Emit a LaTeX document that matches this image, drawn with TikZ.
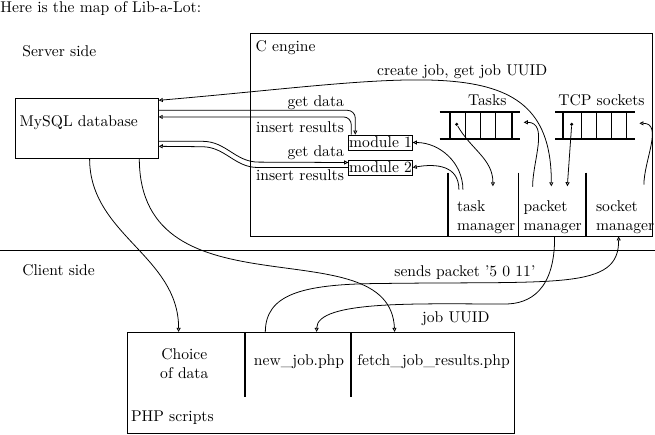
\documentclass[tikz,border=0pt]{standalone}
\usetikzlibrary{arrows.meta,calc,fit}
\begin{document}
\begin{tikzpicture}[x=0.641pt,y=0.641pt,
  line width=0.5pt,
  txt/.style={inner sep=0pt, anchor=base west},
  boxed/.style={draw, inner sep=0pt},
  zone/.style={inner sep=0pt},
  conarrow/.style={-{Triangle[open,length=2.6pt,width=2.6pt]}},
  biarrow/.style={{Triangle[open,length=2.6pt,width=2.6pt]}-{Triangle[open,length=2.6pt,width=2.6pt]}},
  divider/.style={line width=1.3pt},
  thindivider/.style={line width=0.5pt},
  queueline/.style={line width=1.3pt},
  slotline/.style={line width=0.5pt},
  modbox/.style={draw, inner sep=0pt, minimum width=40.8pt, minimum height=9.6pt},
  qdot/.style={circle, fill, inner sep=0pt, minimum size=2.2pt},
  mgr/.style={inner sep=0pt, align=left, anchor=west},
]
\useasboundingbox (0,0) rectangle (655,-434);

% titles
\node[txt] (title) at (0,-12) {Here is the map of Lib-a-Lot:};
\node[txt] (server) at (22,-56) {Server side};
\node[txt] (client) at (22,-275) {Client side};

% MySQL
\node[boxed, fit={(15.3,-98.3) (158.3,-158.3)}] (mysql) {};
\node[txt] (mysqltxt) at (19.3,-126.7) {MySQL database};

% C engine
\node[boxed, fit={(250.7,-33) (652,-236)}] (cengine) {};
\node[txt] (cenginetxt) at (255.3,-51.7) {C engine};

% separator
\draw (0,-250.7) -- (655,-250.7);

% Tasks queue
\node[zone, fit={(440,-112.7) (520,-138.3)}] (tasks) {};
\draw[queueline] (tasks.north west) -- (tasks.north east) (tasks.south west) -- (tasks.south east);
\draw[queueline] (450,-112.7) -- (450,-138.3) (511.7,-112.7) -- (511.7,-138.3);
\draw[slotline] (465,-112.7) -- (465,-138.3) (480,-112.7) -- (480,-138.3) (495,-112.7) -- (495,-138.3);
\node[inner sep=0pt, anchor=base] (taskslbl) at (487.3,-105.7) {Tasks};
\node[qdot] (taskdot) at (456.7,-124.3) {};

% TCP sockets queue
\node[zone, fit={(555.7,-112.7) (634.3,-138.3)}] (tcp) {};
\draw[queueline] (tcp.north west) -- (tcp.north east) (tcp.south west) -- (tcp.south east);
\draw[queueline] (563.3,-112.7) -- (563.3,-138.3);
\draw[slotline] (581.7,-112.7) -- (581.7,-138.3) (596.7,-112.7) -- (596.7,-138.3) (611.7,-112.7) -- (611.7,-138.3) (626.7,-112.7) -- (626.7,-138.3);
\node[txt] (tcplbl) at (558,-105.7) {TCP sockets};
\node[qdot] (tcpdot) at (571.7,-124.3) {};

% modules
\node[modbox] (mod1) at (380.5,-142.5) {module 1};
\node[modbox] (mod2) at (380.5,-167.5) {module 2};

\node[inner sep=0pt, anchor=base east] (gd1) at (344.3,-106.3) {get data};
\node[inner sep=0pt, anchor=base east] (ir1) at (344.3,-132.5) {insert results};
\node[inner sep=0pt, anchor=base east] (gd2) at (344.3,-156.7) {get data};
\node[inner sep=0pt, anchor=base east] (ir2) at (344.3,-180) {insert results};

% managers
\node[zone, fit={(448,-173) (518.5,-236)}] (taskcol) {};
\node[zone, fit={(518.5,-173) (586,-236)}] (packcol) {};
\node[zone, fit={(586,-173) (652,-236)}] (sockcol) {};
\draw[divider] (taskcol.north west) -- (taskcol.south west);
\draw[thindivider] (packcol.north west) -- (packcol.south west);
\draw[divider] (sockcol.north west) -- (sockcol.south west);
\node[mgr] (tasktxt) at (456.7,-217.3) {task\\manager};
\node[mgr] (packtxt) at (523.3,-217.3) {packet\\manager};
\node[mgr] (socktxt) at (595.7,-217.3) {socket\\manager};

% PHP scripts
\node[boxed, fit={(127,-332.3) (514,-433.3)}] (php) {};
\node[txt] (phptxt) at (130.7,-421.7) {PHP scripts};
\draw[divider] (245,-332.3) -- (245,-397);
\draw[divider] (351,-332.3) -- (351,-397);
\node[inner sep=0pt, align=center] (choice) at (184.3,-363.8) {Choice\\of data};
\node[inner sep=0pt, anchor=base] (newjob) at (299,-365) {new\_job.php};
\node[txt] (fetch) at (357,-365) {fetch\_job\_results.php};

% connector labels
\node[txt] (createlbl) at (376.7,-75) {create job, get job UUID};
\node[txt] (sendslbl) at (394,-276.7) {sends packet '5 0 11'};
\node[txt] (uuidlbl) at (421.7,-322.7) {job UUID};

% connectors
\draw[biarrow] ($(mysql.north east)+(0,-2.4)$) .. controls (420,-78) and (551.7,-45) .. ($(packcol.north west)+(33.2,-13.7)$);

\draw[conarrow, rounded corners=5pt] ($(mysql.north east)+(0,-12.4)$) -| ($(mod1.north west)+(7,0)$);
\draw[conarrow, rounded corners=5pt] ($(mod1.north west)+(3,0)$) |- ($(mysql.north east)+(0,-19)$);

\draw[conarrow] ($(mysql.north east)+(0,-43.4)$) -- ++(44,0) to[out=0,in=180] ++(56,-20.8) -- ($(mod2.west)+(0,5)$);
\draw[conarrow] (mod2.west) -- ++(-90.4,0) to[out=180,in=0] ++(-56,20.8) -- ($(mysql.north east)+(0,-48.4)$);

\draw[conarrow] ($(taskcol.north west)+(15.3,-17)$) to[out=90,in=0] (mod1.east);
\draw[conarrow] ($(taskcol.north west)+(11.3,-17)$) to[out=90,in=10,looseness=1.2] (mod2.east);

\draw[conarrow] (taskdot) to[out=-60,in=90] ($(taskcol.north west)+(45.3,-13.7)$);
\draw[conarrow] (tcpdot) -- ($(packcol.north west)+(49.2,-13.7)$);

\draw[conarrow] ($(packcol.north west)+(14.5,-14)$) to[out=90,in=0] ($(tasks.east)+(3.3,3.2)$);
\draw[conarrow] ($(sockcol.north west)+(58.3,-12)$) to[out=90,in=0] ($(tcp.east)+(4.7,2.2)$);

\draw[conarrow] ($(mysql.south west)+(74.7,0)$) to[out=-90,in=90] ($(php.north west)+(52,0)$);
\draw[conarrow] ($(mysql.south west)+(124.4,0)$) .. controls (139.7,-320) and (390,-225) .. ($(php.north west)+(268,0)$);

\coordinate (uuidbend) at (505,-304);
\draw[conarrow] ($(packcol.south west)+(36.5,0)$) .. controls (555,-290) and (530,-304) .. (uuidbend) .. controls (420,-304) and (317,-300) .. ($(php.north west)+(190,0)$);

\coordinate (sendbend) at (380,-283.5);
\draw[conarrow] ($(php.north west)+(138.7,0)$) .. controls (265.7,-295) and (300,-284) .. (sendbend) .. controls (560,-281) and (619,-290) .. ($(sockcol.south west)+(33,0)$);
\end{tikzpicture}
\end{document}
